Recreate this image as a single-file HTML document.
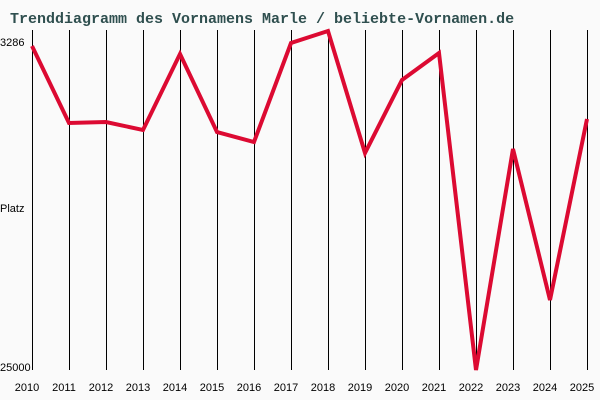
<!DOCTYPE html>
<html><head><style>body{margin:0;background:#fafafa}</style></head><body>
<svg width="600" height="400" xmlns="http://www.w3.org/2000/svg" style="display:block;background:#fafafa">
<text x="10" y="23" font-family="Liberation Mono, monospace" font-size="15" font-weight="bold" fill="#2f4f4f">Trenddiagramm des Vornamens Marle / beliebte-Vornamen.de</text>
<g stroke="#000" stroke-width="1">
<line x1="32.5" y1="30" x2="32.5" y2="370"/><line x1="69.5" y1="30" x2="69.5" y2="370"/><line x1="106.5" y1="30" x2="106.5" y2="370"/><line x1="143.5" y1="30" x2="143.5" y2="370"/><line x1="180.5" y1="30" x2="180.5" y2="370"/><line x1="217.5" y1="30" x2="217.5" y2="370"/><line x1="254.5" y1="30" x2="254.5" y2="370"/><line x1="291.5" y1="30" x2="291.5" y2="370"/><line x1="328.5" y1="30" x2="328.5" y2="370"/><line x1="365.5" y1="30" x2="365.5" y2="370"/><line x1="402.5" y1="30" x2="402.5" y2="370"/><line x1="439.5" y1="30" x2="439.5" y2="370"/><line x1="476.5" y1="30" x2="476.5" y2="370"/><line x1="513.5" y1="30" x2="513.5" y2="370"/><line x1="550.5" y1="30" x2="550.5" y2="370"/><line x1="587.5" y1="30" x2="587.5" y2="370"/>
</g>
<g font-family="Liberation Sans, sans-serif" font-size="11" fill="#000">
<text x="0" y="46">3286</text><text x="0" y="212">Platz</text><text x="0" y="371">25000</text>
<g text-anchor="middle">
<text x="27" y="391">2010</text><text x="64" y="391">2011</text><text x="101" y="391">2012</text><text x="138" y="391">2013</text><text x="175" y="391">2014</text><text x="212" y="391">2015</text><text x="249" y="391">2016</text><text x="286" y="391">2017</text><text x="323" y="391">2018</text><text x="360" y="391">2019</text><text x="397" y="391">2020</text><text x="434" y="391">2021</text><text x="471" y="391">2022</text><text x="508" y="391">2023</text><text x="545" y="391">2024</text><text x="582" y="391">2025</text>
</g></g>
<polyline fill="none" stroke="#dc0a32" stroke-width="4" stroke-linejoin="miter" points="32,46 69,123 106,122 143,130 180,54 217,132 254,142 291,43 328,31 365,153 402,80 439,53 476,370 513,149 550,300 587,119"/>
</svg>
</body></html>
